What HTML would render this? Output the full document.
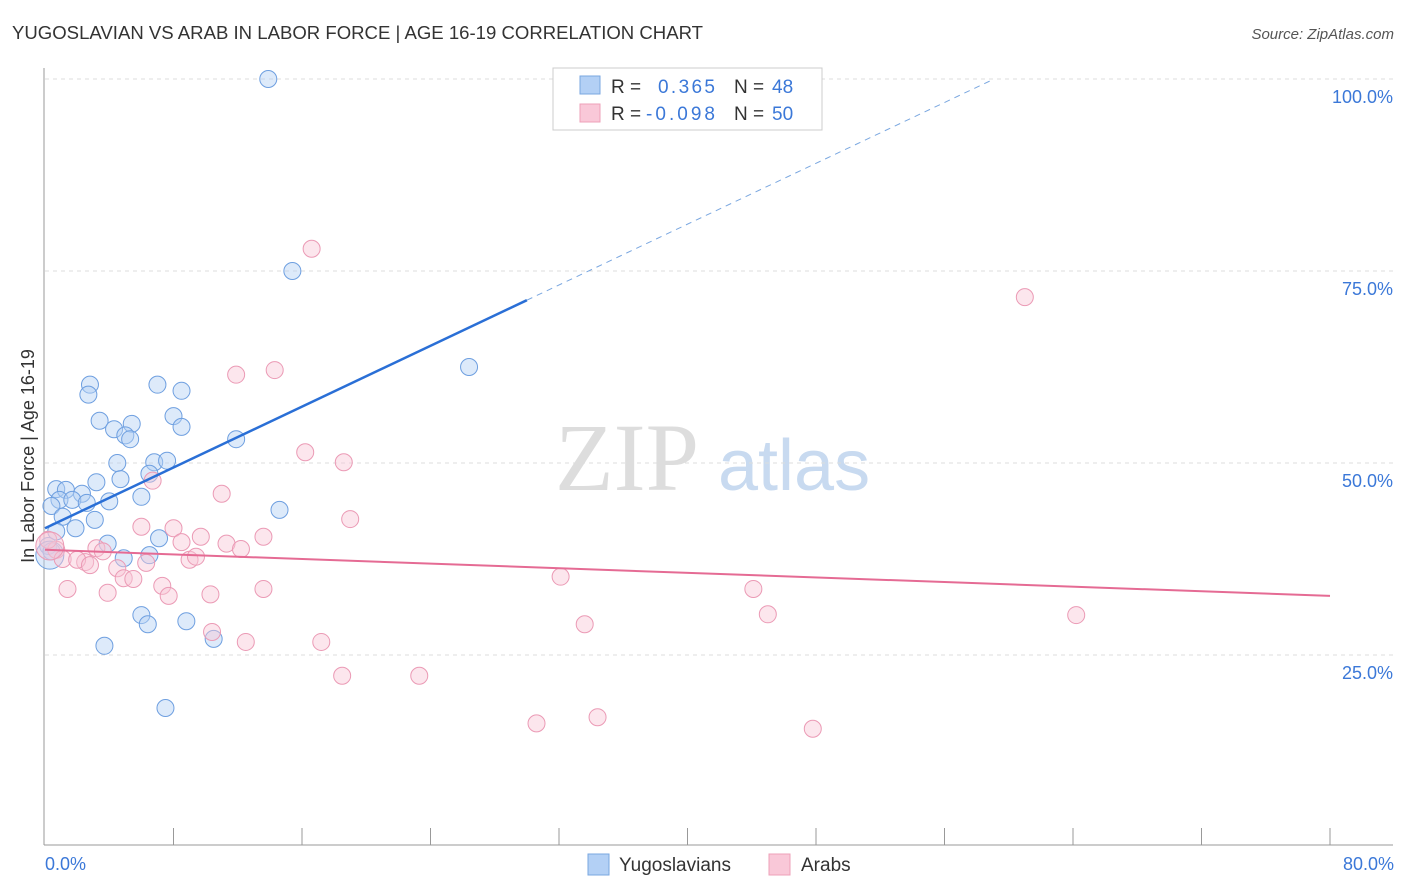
<!DOCTYPE html>
<html><head><meta charset="utf-8"><style>
body{margin:0;background:#fff;font-family:"Liberation Sans",sans-serif;}
svg{display:block}
</style></head><body>
<svg id="c" width="1406" height="892">
<text x="12" y="39" font-size="18" fill="#333" textLength="691" lengthAdjust="spacingAndGlyphs">YUGOSLAVIAN VS ARAB IN LABOR FORCE | AGE 16-19 CORRELATION CHART</text>
<text x="1394" y="39" font-size="15" fill="#555" text-anchor="end" font-style="italic">Source: ZipAtlas.com</text>
<text x="555" y="490" font-size="96" fill="#ddd" font-family="Liberation Serif,serif">ZIP</text>
<text x="718" y="490" font-size="72" fill="#c8daf0">atlas</text>
<g id="grid"></g><g id="marks"></g>
<text x="34" y="456" font-size="18" fill="#333" text-anchor="middle" transform="rotate(-90 34 456)">In Labor Force | Age 16-19</text>
<text x="45" y="870" font-size="18" fill="#3b78d8">0.0%</text>
<text x="1394" y="870" font-size="18" fill="#3b78d8" text-anchor="end">80.0%</text>
<g>
<rect x="553" y="68" width="269" height="62" fill="#fff" stroke="#ccc"/>
<rect x="580" y="76" width="20" height="18" fill="#b3d0f5" stroke="#7aa7e0"/>
<rect x="580" y="104" width="20" height="18" fill="#f9c8d8" stroke="#eea0b8"/>
<text x="611" y="93" font-size="19" fill="#333">R =</text><text x="658" y="93" font-size="19" fill="#3b78d8" textLength="57">0.365</text>
<text x="734" y="93" font-size="19" fill="#333">N =</text><text x="772" y="93" font-size="19" fill="#3b78d8">48</text>
<text x="611" y="120" font-size="19" fill="#333">R =</text><text x="646" y="120" font-size="19" fill="#3b78d8" textLength="69">-0.098</text>
<text x="734" y="120" font-size="19" fill="#333">N =</text><text x="772" y="120" font-size="19" fill="#3b78d8">50</text>
</g>
<g>
<rect x="588" y="854" width="21" height="21" fill="#b3d0f5" stroke="#7aa7e0"/>
<text x="619" y="871" font-size="19" fill="#333">Yugoslavians</text>
<rect x="769" y="854" width="21" height="21" fill="#f9c8d8" stroke="#eea0b8"/>
<text x="801" y="871" font-size="19" fill="#333">Arabs</text>
</g>
</svg>
<script>
const yTicks=[100,75,50,25];
const yTickLabels=["100.0%","75.0%","50.0%","25.0%"];
const blueX=[13.9,15.4,26.4,2.8,7.0,2.7,8.5,3.4,8.0,5.4,4.3,5.0,5.3,8.5,11.9,4.5,6.8,7.6,6.5,4.7,3.2,0.7,1.3,2.3,6.0,0.9,1.7,4.0,2.6,0.4,14.6,1.1,3.1,1.9,0.7,7.1,3.9,0.2,0.4,4.9,6.5,6.0,6.4,8.8,10.5,3.7,7.5,0.3];
const blueY=[100,75.0,62.5,60.2,60.2,58.9,59.4,55.5,56.1,55.1,54.4,53.6,53.1,54.7,53.1,50.0,50.1,50.3,48.6,47.9,47.5,46.6,46.5,46.0,45.6,45.2,45.2,45.0,44.8,44.4,43.9,43.0,42.6,41.5,41.1,40.2,39.5,39.2,38.5,37.6,38.0,30.2,29.0,29.4,27.1,26.2,18.1,38.0];
const pinkX=[16.6,61.0,14.3,11.9,16.2,18.6,6.7,11.0,19.0,6.0,8.0,9.7,8.5,11.3,13.6,12.2,3.2,3.6,0.7,0.2,1.1,2.5,2.0,2.8,6.3,9.0,9.4,4.5,4.9,5.5,32.1,1.4,7.3,3.9,7.7,10.3,13.6,44.1,33.6,45.0,64.2,10.4,12.5,17.2,18.5,23.3,30.6,34.4,47.8,0.3];
const pinkY=[77.9,71.6,62.1,61.5,51.4,50.1,47.7,46.0,42.7,41.7,41.5,40.4,39.7,39.5,40.4,38.8,38.9,38.5,38.7,40.0,37.5,37.1,37.4,36.7,37.0,37.4,37.8,36.3,35.0,34.9,35.2,33.6,34.0,33.1,32.7,32.9,33.6,33.6,29.0,30.3,30.2,28.0,26.7,26.7,22.3,22.3,16.1,16.9,15.4,39.2];
const blueTrend=[41.5,0.99];
const pinkTrend=[38.7,-0.075];
const X=v=>45+v/80*1285, Y=v=>847-v/100*768;
const NS="http://www.w3.org/2000/svg";
function mk(t,a,p){const e=document.createElementNS(NS,t);for(const k in a)e.setAttribute(k,a[k]);p.appendChild(e);return e;}
const g=document.getElementById('grid'), m=document.getElementById('marks');
yTicks.forEach((t,i)=>{
 const l=mk('line',{x1:45,x2:1393,y1:Y(t),y2:Y(t),stroke:'#ddd','stroke-dasharray':'4 4'},g);
 
 
 const tx=mk('text',{x:1393,y:Y(t)+24,'font-size':18,fill:'#3b78d8','text-anchor':'end'},g);
 tx.textContent=yTickLabels[i];
 
 
});
mk('line',{x1:44,x2:44,y1:68,y2:845,stroke:'#999'},g);
mk('line',{x1:44,x2:1393,y1:845,y2:845,stroke:'#999'},g);
for(let i=1;i<=10;i++){const x=45+i*128.5;mk('line',{x1:x,x2:x,y1:828,y2:845,stroke:'#999'},g);}
function pts(xs,ys,fill,stroke,name){xs.forEach((x,i)=>{
 const big=(i==xs.length-1);
 const c=mk('circle',{cx:X(x),cy:Y(ys[i]),r:big?14:8.5,fill:fill,'fill-opacity':0.45,stroke:stroke,'stroke-width':1},m);
 
 
});}
pts(blueX,blueY,'#b3d0f5','#6e9fe0','yugoslavian-point');
pts(pinkX,pinkY,'#f9c8d8','#eb9ab5','arab-point');
const bt=mk('line',{x1:X(0),y1:Y(blueTrend[0]),x2:X(30),y2:Y(blueTrend[0]+30*blueTrend[1]),stroke:'#2a6fd6','stroke-width':2.5},m);


const xe=(100-blueTrend[0])/blueTrend[1];
const bd=mk('line',{x1:X(30),y1:Y(blueTrend[0]+30*blueTrend[1]),x2:X(xe),y2:Y(100),stroke:'#7aa7e0','stroke-width':1,'stroke-dasharray':'6 5'},m);


const pt=mk('line',{x1:X(0),y1:Y(pinkTrend[0]),x2:X(80),y2:Y(pinkTrend[0]+80*pinkTrend[1]),stroke:'#e56b94','stroke-width':2},m);


</script>
</body></html>
